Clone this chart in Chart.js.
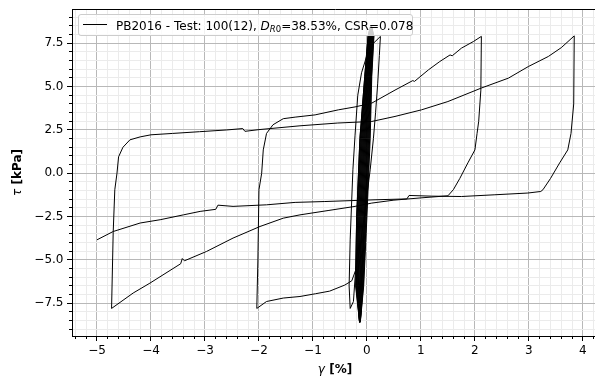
<!DOCTYPE html>
<html>
<head>
<meta charset="utf-8">
<script src="https://cdn.jsdelivr.net/npm/chart.js@4.4.1/dist/chart.umd.min.js"></script>
<style>
  html, body { margin: 0; padding: 0; overflow: hidden; background: #fff; }
  canvas { display: block; }
</style>
</head>
<body>
<canvas id="chart" width="600" height="381" style="width:600px;height:381px"></canvas>
<script>
// many small cycles near zero strain (the thick black band)
const bandStrain = [
  0.0,
  -0.14, -0.21, -0.19, -0.13, -0.04, 0.02, 0.06,
  0.078, 0.086, 0.038, -0.016, -0.076, -0.12, -0.128,
  -0.138, -0.195, -0.171, -0.111, -0.027, 0.031, 0.063,
  0.081, 0.097, 0.051, 0.003, -0.057, -0.105, -0.126,
  -0.136, -0.18, -0.152, -0.092, -0.014, 0.042, 0.066,
  0.084, 0.108, 0.064, 0.022, -0.038, -0.09, -0.124,
  -0.134, -0.165, -0.133, -0.073, -0.001, 0.053, 0.069,
  0.087, 0.119, 0.077, 0.041, -0.019, -0.075, -0.122,
  -0.132, -0.15, -0.114, -0.054, 0.012, 0.064, 0.072,
  0.09, 0.13, 0.09, 0.06, 0.0, -0.06, -0.12,
  -0.13, -0.135, -0.095, -0.035, 0.025, 0.075, 0.075,
  0.0795, 0.0915, 0.0445, -0.0065, -0.0665, -0.1125, -0.127,
  -0.139, -0.2025, -0.1805, -0.1205, -0.0335, 0.0255, 0.0615,
  0.0825, 0.1025, 0.0575, 0.0125, -0.0475, -0.0975, -0.125,
  -0.137, -0.1875, -0.1615, -0.1015, -0.0205, 0.0365, 0.0645,
  0.0855, 0.1135, 0.0705, 0.0315, -0.0285, -0.0825, -0.123,
  -0.135, -0.1725, -0.1425, -0.0825, -0.0075, 0.0475, 0.0675,
  0.0885, 0.1245, 0.0835, 0.0505, -0.0095, -0.0675, -0.121,
  -0.133, -0.1575, -0.1235, -0.0635, 0.0055, 0.0585, 0.0705,
  0.0765, 0.0805, 0.0315, -0.0255, -0.0855, -0.1275, -0.129,
  -0.131, -0.1425, -0.1045, -0.0445, 0.0185, 0.0695, 0.0735,
  0.06, 0.02, -0.04, -0.13, -0.19, -0.21
];
const bandStress = [
  0.0,
  -8.5, -6.5, -2.5, 2.0, 5.6, 7.9, 8.45,
  8.45, 7.9, 5.6, 2.0, -2.5, -6.5, -8.5,
  -8.55, -6.5, -2.5, 2.0, 5.6, 7.9, 8.45,
  8.45, 7.9, 5.6, 2.0, -2.5, -6.5, -8.6,
  -8.5, -6.5, -2.5, 2.0, 5.6, 7.9, 8.45,
  8.45, 7.9, 5.6, 2.0, -2.5, -6.5, -8.55,
  -8.5, -6.5, -2.5, 2.0, 5.6, 7.9, 8.45,
  8.45, 7.9, 5.6, 2.0, -2.5, -6.5, -8.5,
  -8.6, -6.5, -2.5, 2.0, 5.6, 7.9, 8.45,
  8.45, 7.9, 5.6, 2.0, -2.5, -6.5, -8.5,
  -8.5, -6.5, -2.5, 2.0, 5.6, 7.9, 8.45,
  8.45, 7.9, 5.6, 2.0, -2.5, -6.5, -8.55,
  -8.5, -6.5, -2.5, 2.0, 5.6, 7.9, 8.45,
  8.45, 7.9, 5.6, 2.0, -2.5, -6.5, -8.5,
  -8.6, -6.5, -2.5, 2.0, 5.6, 7.9, 8.45,
  8.45, 7.9, 5.6, 2.0, -2.5, -6.5, -8.5,
  -8.55, -6.5, -2.5, 2.0, 5.6, 7.9, 8.45,
  8.45, 7.9, 5.6, 2.0, -2.5, -6.5, -8.5,
  -8.5, -6.5, -2.5, 2.0, 5.6, 7.9, 8.45,
  8.45, 7.9, 5.6, 2.0, -2.5, -6.5, -8.6,
  -8.5, -6.5, -2.5, 2.0, 5.6, 7.9, 8.45,
  8.45, 7.9, 5.6, 2.0, -2.5, -5.6
];

// the last large loops (gamma %, tau kPa)
const loopStrain = [
  -0.25, -0.31, -0.33, -0.31, -0.26, -0.22, -0.17, -0.1, 0.0, 0.12, 0.25,
  0.23, 0.2, 0.16, 0.12, 0.06, -0.05, -0.14, -0.21,
  -0.28, -0.41, -0.69, -0.95, -1.24, -1.55, -1.86, -2.04,
  -2.02, -2.0, -1.95, -1.92, -1.86, -1.74, -1.55, -1.33, -0.96, -0.53, -0.22, 0.09, 0.52, 0.85, 0.88, 1.14, 1.35, 1.54, 1.58, 1.75, 1.97, 2.12,
  2.11, 2.07, 2.04, 2.0, 1.87, 1.72, 1.6, 1.5, 1.0, 0.5, 0.09, -0.22, -0.72, -1.24, -1.55, -1.98, -2.48, -2.97, -3.38, -3.42, -3.45, -4.02, -4.33, -4.73,
  -4.7, -4.67, -4.63, -4.6, -4.52, -4.39, -4.2, -4.0, -3.6, -3.1, -2.6, -2.3, -2.26, -2.0, -1.24, -0.54, 0.09, 0.52, 1.01, 1.5, 2.12, 2.62, 2.99, 3.36, 3.6, 3.84,
  3.83, 3.78, 3.72, 3.57, 3.4, 3.26, 3.22, 2.98, 2.37, 1.75, 1.2, 0.78, 0.74, 0.15, -0.78, -1.33, -1.86, -2.48, -2.76, -2.8, -3.09, -3.4, -3.83, -4.2, -4.7, -5.0
];
const loopStress = [
  -7.4, -7.8, -6.5, -3.8, 0.2, 2.2, 4.5, 5.8, 6.8, 7.5, 7.9,
  6.8, 5.2, 3.5, 2.0, 0.2, -2.5, -4.5, -5.6,
  -6.2, -6.45, -6.8, -6.95, -7.11, -7.2, -7.4, -7.8,
  -5.0, -0.95, 0.0, 1.35, 2.3, 2.8, 3.15, 3.24, 3.37, 3.66, 3.83, 4.05, 4.8, 5.35, 5.3, 5.97, 6.45, 6.83, 6.78, 7.22, 7.6, 7.9,
  4.8, 3.0, 2.3, 1.35, 0.6, -0.3, -0.95, -1.3, -1.42, -1.55, -1.72, -1.91, -2.15, -2.4, -2.59, -3.07, -3.74, -4.51, -5.05, -4.92, -5.22, -6.34, -6.91, -7.8,
  -3.4, -0.95, 0.0, 0.95, 1.5, 1.93, 2.1, 2.22, 2.3, 2.4, 2.5, 2.58, 2.42, 2.52, 2.74, 2.9, 2.99, 3.28, 3.66, 4.14, 4.92, 5.49, 6.16, 6.74, 7.25, 7.93,
  4.0, 2.3, 1.35, 0.6, -0.3, -0.95, -1.05, -1.14, -1.24, -1.34, -1.32, -1.28, -1.48, -1.53, -1.63, -1.68, -1.82, -1.91, -1.84, -2.08, -2.2, -2.4, -2.68, -2.87, -3.36, -3.84
];

const xTicks = [-5, -4, -3, -2, -1, 0, 1, 2, 3, 4];
const yTicks = [-7.5, -5.0, -2.5, 0.0, 2.5, 5.0, 7.5];
const legendLabel = 'PB2016 - Test: 100(12), D_R0=38.53%, CSR=0.078';

const strain = bandStrain.concat(loopStrain);
const stress = bandStress.concat(loopStress);
const points = strain.map((g, i) => ({x: g, y: stress[i]}));

const FONT = '"DejaVu Sans", "Liberation Sans", sans-serif';

function isMajor(v, list) {
  return list.some(t => Math.abs(t - v) < 1e-6);
}
function minus(s) { return s.replace('-', '\u2212'); }

// minor tick marks, spines, legend and axis titles
const extras = {
  id: 'extras',
  afterDraw(chart) {
    const ctx = chart.ctx;
    const a = chart.chartArea;
    const xs = chart.scales.x, ys = chart.scales.y;
    const al = p => Math.round(p - 0.5) + 0.5;
    ctx.save();
    ctx.strokeStyle = '#000';
    ctx.lineWidth = 1;
    ctx.beginPath();
    xs.ticks.forEach(t => {
      const px = al(xs.getPixelForValue(t.value));
      const len = isMajor(t.value, xTicks) ? 5 : 3;
      ctx.moveTo(px, a.bottom);
      ctx.lineTo(px, a.bottom + len);
    });
    ys.ticks.forEach(t => {
      const py = al(ys.getPixelForValue(t.value));
      const len = isMajor(t.value, yTicks) ? 5 : 3;
      ctx.moveTo(a.left, py);
      ctx.lineTo(a.left - len, py);
    });
    // top and right spines
    ctx.moveTo(al(a.left), al(a.top));
    ctx.lineTo(al(a.right), al(a.top));
    ctx.lineTo(al(a.right), al(a.bottom));
    ctx.stroke();

    // legend
    const bx = 78.5, by = 14.5, bw = 334, bh = 21, r = 2.5;
    ctx.beginPath();
    ctx.moveTo(bx + r, by);
    ctx.arcTo(bx + bw, by, bx + bw, by + bh, r);
    ctx.arcTo(bx + bw, by + bh, bx, by + bh, r);
    ctx.arcTo(bx, by + bh, bx, by, r);
    ctx.arcTo(bx, by, bx + bw, by, r);
    ctx.closePath();
    ctx.fillStyle = 'rgba(255,255,255,0.8)';
    ctx.fill();
    ctx.strokeStyle = '#cccccc';
    ctx.stroke();
    ctx.beginPath();
    ctx.strokeStyle = '#000';
    ctx.moveTo(83, 24.5);
    ctx.lineTo(107, 24.5);
    ctx.stroke();

    const parts = legendLabel.split(/D_R0/);
    ctx.fillStyle = '#000';
    ctx.textBaseline = 'alphabetic';
    ctx.textAlign = 'left';
    let tx = 116;
    const base = 29.5;
    ctx.font = '12px ' + FONT;
    ctx.fillText(parts[0], tx, base);
    tx += ctx.measureText(parts[0]).width;
    ctx.font = 'italic 12px ' + FONT;
    ctx.fillText('D', tx, base);
    tx += ctx.measureText('D').width;
    ctx.font = 'italic 8.5px ' + FONT;
    ctx.fillText('R', tx, base + 2.5);
    tx += ctx.measureText('R').width;
    ctx.font = '8.5px ' + FONT;
    ctx.fillText('0', tx, base + 2.5);
    tx += ctx.measureText('0').width;
    ctx.font = '12px ' + FONT;
    ctx.fillText(parts[1], tx, base);

    // axis titles: greek symbol in italic, unit in bold
    function mixed(sym, rest, cx, y) {
      ctx.font = 'italic 12px ' + FONT;
      const w1 = ctx.measureText(sym).width;
      ctx.font = 'bold 12px ' + FONT;
      const w2 = ctx.measureText(rest).width;
      let x0 = cx - (w1 + w2) / 2;
      ctx.font = 'italic 12px ' + FONT;
      ctx.fillText(sym, x0, y);
      ctx.font = 'bold 12px ' + FONT;
      ctx.fillText(rest, x0 + w1, y);
    }
    mixed('\u03b3', ' [%]', (a.left + a.right) / 2, 373);
    ctx.translate(20.5, (a.top + a.bottom) / 2);
    ctx.rotate(-Math.PI / 2);
    mixed('\u03c4', ' [kPa]', 0, 0);
    ctx.restore();
  }
};

new Chart(document.getElementById('chart'), {
  type: 'scatter',
  data: {
    datasets: [{
      label: legendLabel,
      data: points,
      showLine: true,
      borderColor: '#000',
      borderWidth: 1,
      pointRadius: 0,
      tension: 0,
      fill: false
    }]
  },
  options: {
    responsive: false,
    animation: false,
    devicePixelRatio: 1,
    layout: { padding: { top: 9, right: 2, left: 0, bottom: 0 } },
    plugins: { legend: { display: false }, tooltip: { enabled: false } },
    scales: {
      x: {
        type: 'linear',
        min: -5.463,
        max: 4.28,
        afterFit: s => { s.height = 45; s.paddingLeft = 0; s.paddingRight = 0; },
        border: { color: '#000', width: 1 },
        grid: {
          drawTicks: false,
          color: c => (c.tick && isMajor(c.tick.value, xTicks)) ? '#b8b8b8' : '#ebebeb'
        },
        ticks: {
          stepSize: 0.2,
          includeBounds: false,
          autoSkip: false,
          maxRotation: 0,
          padding: 8,
          color: '#000',
          font: { family: FONT, size: 12 },
          callback: v => isMajor(v, xTicks) ? minus(String(Math.round(v))) : ''
        }
      },
      y: {
        type: 'linear',
        min: -9.39,
        max: 9.48,
        afterFit: s => { s.width = 72; s.paddingTop = 0; s.paddingBottom = 0; },
        border: { color: '#000', width: 1 },
        grid: {
          drawTicks: false,
          color: c => (c.tick && isMajor(c.tick.value, yTicks)) ? '#b8b8b8' : '#ebebeb'
        },
        ticks: {
          stepSize: 0.5,
          includeBounds: false,
          autoSkip: false,
          padding: 8.5,
          color: '#000',
          font: { family: FONT, size: 12 },
          callback: v => isMajor(v, yTicks) ? minus(v.toFixed(1)) : ''
        }
      }
    }
  },
  plugins: [extras]
});
</script>
</body>
</html>
